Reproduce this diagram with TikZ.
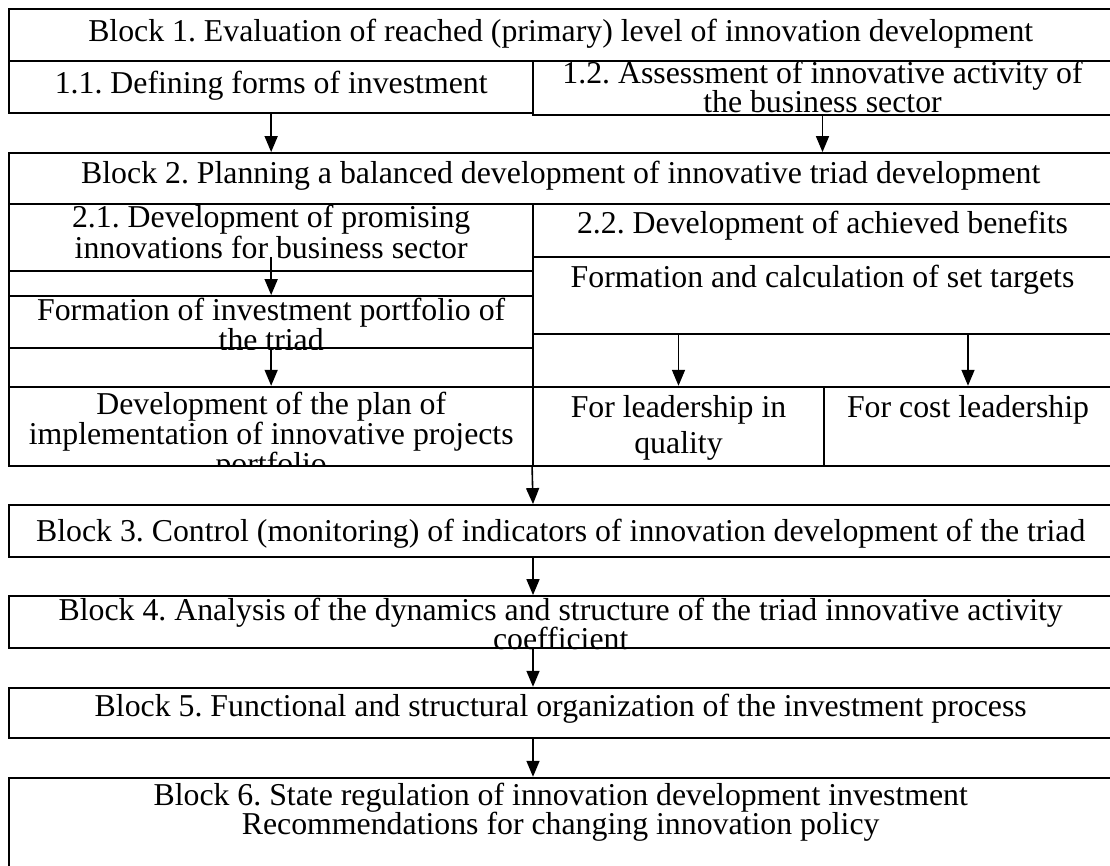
\documentclass[tikz,border=0pt]{standalone}
\usepackage{fontspec}
\setmainfont{Liberation Serif}
\newfontfamily\tnr{Liberation Serif}
\frenchspacing
\usetikzlibrary{arrows.meta,fit}
\tikzset{
  box/.style={draw, line width=1.8pt, rectangle, inner sep=0pt},
  txt/.style={anchor=base, inner sep=0pt, font=\tnr\fontsize{31.8}{32}\selectfont},
  arr/.style={line width=1.6pt, -{Triangle[length=16pt,width=13pt]}},
}
\begin{document}
\begin{tikzpicture}[x=1pt,y=-1pt]
\useasboundingbox[fill=white] (0,0) rectangle (1110,866);
% Block 1
\node[box, fit={(9.3,9.3) (1112,61)}] (b1) {};
\node[box, fit={(9.3,61) (533,113.3)}] (b11) {};
\node[box, fit={(533,61) (1112,115)}] (b12) {};
% Block 2
\node[box, fit={(9.3,153) (1112,204.3)}] (b2t) {};
\node[box, fit={(9.3,204.3) (533,466)}] (lcol) {};
\node[box, fit={(533,204.3) (1112,466)}] (rcol) {};
\node[box, fit={(9.3,204.3) (533,270.7)}] (b21) {};
\node[box, fit={(9.3,296) (533,348.3)}] (fp) {};
\node[box, fit={(9.3,386.7) (533,466)}] (dp) {};
\node[box, fit={(533,204.3) (1112,256.7)}] (b22) {};
\node[box, fit={(533,256.7) (1112,334.3)}] (fc) {};
\node[box, fit={(533,386.7) (824,466)}] (lq) {};
\node[box, fit={(824,386.7) (1112,466)}] (lc) {};
% Blocks 3-6
\node[box, fit={(9.3,505) (1112,556.7)}] (b3) {};
\node[box, fit={(9.3,596) (1112,648.3)}] (b4) {};
\node[box, fit={(9.3,687.7) (1112,738.3)}] (b5) {};
\node[box, fit={(9.3,777.7) (1112,880)}] (b6) {};

% texts
\node[txt] (t1) at (560.7,42) {Block 1. Evaluation of reached (primary) level of innovation development};
\node[txt] (t11) at (271.2,94) {1.1. Defining forms of investment};
\begin{scope}
\clip (b12.north west) rectangle (b12.south east);
\node[txt] (t12a) at (822.5,84) {1.2. Assessment of innovative activity of};
\node[txt] (t12b) at (822.5,113) {the business sector};
\end{scope}
\node[txt] (t2) at (560.7,184) {Block 2. Planning a balanced development of innovative triad development};
\node[txt] (t21a) at (271.2,228) {2.1. Development of promising};
\node[txt] (t21b) at (271.2,259) {innovations for business sector};
\begin{scope}
\clip (fp.north west) rectangle (fp.south east);
\node[txt] (tfpa) at (271.2,320) {Formation of investment portfolio of};
\node[txt] (tfpb) at (271.2,350) {the triad};
\end{scope}
\begin{scope}
\clip (dp.north west) rectangle (dp.south east);
\node[txt] (tdpa) at (271.2,414) {Development of the plan of};
\node[txt] (tdpb) at (271.2,444) {implementation of innovative projects};
\node[txt] (tdpc) at (271.2,474) {portfolio};
\end{scope}
\node[txt] (t22) at (822.5,234) {2.2. Development of achieved benefits};
\node[txt] (tfc) at (822.5,288) {Formation and calculation of set targets};
\node[txt] (tlqa) at (678.5,417) {For leadership in};
\node[txt] (tlqb) at (678.5,453) {quality};
\node[txt] (tlc) at (968,417) {For cost leadership};
\node[txt] (t3) at (560.7,541.7) {Block 3. Control (monitoring) of indicators of innovation development of the triad};
\begin{scope}
\clip (b4.north west) rectangle (b4.south east);
\node[txt] (t4a) at (560.7,620) {Block 4. Analysis of the dynamics and structure of the triad innovative activity};
\node[txt] (t4b) at (560.7,649) {coefficient};
\end{scope}
\node[txt] (t5) at (560.7,716.7) {Block 5. Functional and structural organization of the investment process};
\node[txt] (t6a) at (560.7,805) {Block 6. State regulation of innovation development investment};
\node[txt] (t6b) at (560.7,834) {Recommendations for changing innovation policy};

% connectors
\coordinate (a3s) at (272,257.3);
\coordinate (mx) at (533,0);
\draw[arr] (b11.south) -- (b11.south |- b2t.north);
\draw[arr] (b12.south) -- (b12.south |- b2t.north);
\draw[arr] (fp.north |- a3s) -- (fp.north);
\draw[arr] (fp.south) -- (dp.north);
\draw[arr] (lq.north |- fc.south) -- (lq.north);
\draw[arr] (lc.north |- fc.south) -- (lc.north);
\draw[arr] (lq.south west) -- (mx |- b3.north);
\draw[arr] (mx |- b3.south) -- (mx |- b4.north);
\draw[arr] (mx |- b4.south) -- (mx |- b5.north);
\draw[arr] (mx |- b5.south) -- (mx |- b6.north);
\end{tikzpicture}
\end{document}
